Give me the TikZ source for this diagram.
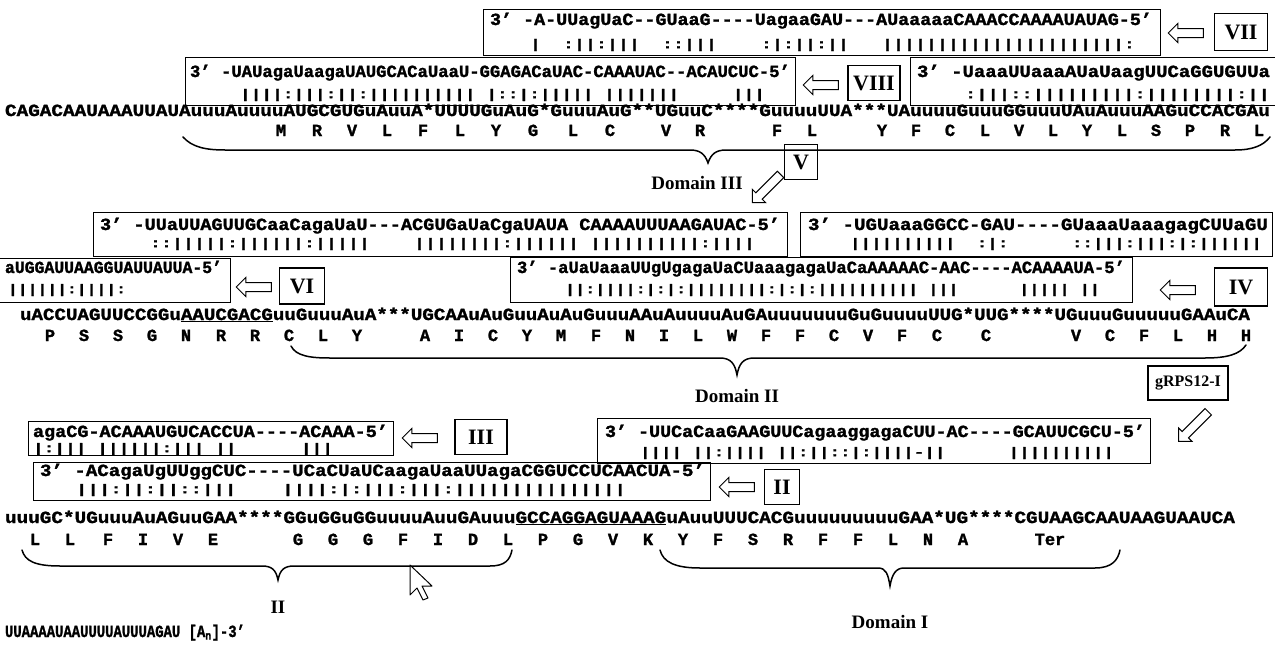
\documentclass[tikz,border=0pt]{standalone}
\usepackage{fontspec}
\setmainfont{Liberation Serif}
\setmonofont{Liberation Mono}[BoldFeatures={FakeBold=1.5}]
\usetikzlibrary{shapes.arrows}
\newcommand{\sqt}[2]{\resizebox{#1pt}{\height}{\ttfamily\bfseries\fontsize{17}{17}\selectfont\frenchspacing #2}}
\newcommand{\pq}[2]{\resizebox*{#1pt}{12pt}{\ttfamily\bfseries\fontsize{17}{17}\selectfont\frenchspacing #2}}
\newcommand{\myq}{\textquoteright}
\tikzset{
  seq/.style={anchor=base west, inner sep=0pt, outer sep=0pt},
  pr/.style={anchor=west, inner sep=0pt, outer sep=0pt},
  gbox/.style={draw, line width=1.2pt, inner sep=0pt, anchor=north west},
  lab/.style={draw, line width=1.2pt, inner sep=0pt, font=\bfseries\fontsize{22}{22}\selectfont},
  aa/.style={anchor=base, inner sep=0pt, font=\ttfamily\bfseries\fontsize{17}{17}\selectfont},
  dom/.style={inner sep=0pt, font=\bfseries\fontsize{19}{19}\selectfont},
  brc/.style={line width=1.5pt, line cap=round},
  harr/.style={single arrow, draw, line width=1pt, fill=white, inner xsep=0pt, inner ysep=4pt, single arrow head extend=5pt, minimum height=35pt},
  cur/.style={line width=1pt, fill=white, line join=round}
}
\begin{document}
\begin{tikzpicture}[x=1pt,y=-1pt]
\useasboundingbox (0,0) rectangle (1275,645);
% ---------- row 1 : guide VII
\node[gbox, minimum width=677pt, minimum height=46pt] (B7) at (483,9) {};
\node[seq] (t7) at (490,25) {\sqt{662}{3\myq{} -A-UUagUaC--GUaaG----UagaaGAU---AUaaaaaCAAACCAAAAUAUAG-5\myq}};
\node[pr] (p7) at (530,45) {\pq{605}{|~~:||:|||~~::|||~~~~:|:||:||~~~||||||||||||||||||||||:}};
\node[harr, rotate=180] (a7) at (1188,33) {};
\node[lab, minimum width=53pt, minimum height=37pt] (L7) at (1241,32) {VII};
% ---------- row 2 : guide VIII
\node[gbox, minimum width=610pt, minimum height=48pt] (B8) at (185,57) {};
\node[seq] (t8) at (190,77) {\sqt{600}{3\myq{} -UAUagaUaagaUAUGCACaUaaU-GGAGACaUAC-CAAAUAC--ACAUCUC-5\myq}};
\node[pr] (p8) at (240,95) {\pq{525}{||||:|||:||:||||||||||~|::|:|||||~|||||||~~~~~|||}};
\node[harr, rotate=180] (a8) at (823,85) {};
\node[lab, minimum width=52pt, minimum height=35pt] (L8) at (874,83) {VIII};
\node[gbox, minimum width=370pt, minimum height=48pt] (B8r) at (910,57) {};
\node[seq] (t8r) at (917,77) {\sqt{353}{3\myq{} -UaaaUUaaaAUaUaagUUCaGGUGUUa}};
\node[pr] (p8r) at (965,95) {\pq{305}{:|||::|||||||||:||||||||:||}};
% ---------- mRNA line 1
\node[seq] (m1) at (5,116) {\sqt{1265}{CAGACAAUAAAUUAUAuuuAuuuuAUGCGUGuAuuA*UUUUGuAuG*GuuuAuG**UGuuC****GuuuuUUA***UAuuuuGuuuGGuuuUAuAuuuAAGuCCACGAu}};
\foreach \l/\x [count=\i] in {M/281,R/317,V/352,L/387,F/423,L/460,Y/496,G/533,L/573,C/610,V/666,R/700,F/777,L/812,Y/882,F/916,C/950,L/985,V/1019,L/1053,Y/1087,L/1122,S/1156,P/1190,R/1225,L/1259}
  \node[aa] (ra-\i) at (\x,136) {\l};
\draw[brc] (183,137) .. controls (192,147) and (205,150) .. (225,150) -- (690,150) .. controls (700,150) and (705,154) .. (708,163) .. controls (711,154) and (716,150) .. (726,150) -- (1235,150) .. controls (1252,150) and (1263,146) .. (1270,137);
\node[dom] (D3) at (697,183) {Domain III};
\node[lab, minimum width=33pt, minimum height=35pt] (L5) at (801,162) {V};
\node[harr, rotate=225, minimum height=40pt] (a5) at (768,187) {};
% ---------- row 3
\node[gbox, minimum width=694pt, minimum height=44pt] (B3l) at (93,212) {};
\node[seq] (t3l) at (100,230) {\sqt{680}{3\myq{} -UUaUUAGUUGCaaCagaUaU---ACGUGaUaCgaUAUA CAAAAUUUAAGAUAC-5\myq}};
\node[pr] (p3l) at (150,244) {\pq{605}{::|||||:||||||:|||||~~~~||||||||:||||||~||||||||||:||||}};
\node[gbox, minimum width=472pt, minimum height=44pt] (B3r) at (800,212) {};
\node[seq] (t3r) at (808,230) {\sqt{460}{3\myq{} -UGUaaaGGCC-GAU----GUaaaUaaagagCUUaGU}};
\node[pr] (p3r) at (850,244) {\pq{412}{||||||||||~~:|:~~~~~~::|||:|||:|:||||||}};
% ---------- row 4
\node[gbox, minimum width=232pt, minimum height=44pt] (B4l) at (-2,258) {};
\node[seq] (t4l) at (5,273) {\sqt{217}{aUGGAUUAAGGUAUUAUUA-5\myq}};
\node[pr] (p4l) at (8,290) {\pq{118}{||||||:||||:}};
\node[harr, rotate=180] (a6) at (256,287) {};
\node[lab, minimum width=45pt, minimum height=36pt] (L6) at (302,286) {VI};
\node[gbox, minimum width=622pt, minimum height=45pt] (B4m) at (510,257) {};
\node[seq] (t4m) at (517,273) {\sqt{608}{3\myq{} -aUaUaaaUUgUgagaUaCUaaagagaUaCaAAAAAC-AAC----ACAAAAUA-5\myq}};
\node[pr] (p4m) at (565,290) {\pq{535}{||:||||:|:|:||||||||:|:|:||||||||||~|||~~~~~~|||||~||}};
\node[harr, rotate=180] (a4) at (1180,290) {};
\node[lab, minimum width=53pt, minimum height=38pt] (L4) at (1241,287) {IV};
% ---------- mRNA line 2
\node[seq] (m2) at (20,320) {\sqt{1230}{uACCUAGUUCCGGu\underline{AAUCGACG}uuGuuuAuA***UGCAAuAuGuuAuAuGuuuAAuAuuuuAuGAuuuuuuuGuGuuuuUUG*UUG****UGuuuGuuuuuGAAuCA}};
\foreach \l/\x [count=\i] in {P/50,S/84,S/118,G/152,N/186,R/221,R/255,C/289,L/323,Y/357,A/425,I/459,C/493,Y/527,M/561,F/596,N/630,I/664,L/698,W/732,F/766,F/800,C/834,V/868,F/902,C/937,C/986,V/1076,C/1110,F/1144,L/1178,H/1212,H/1246}
  \node[aa] (rb-\i) at (\x,341) {\l};
\draw[brc] (291,346) .. controls (296,356) and (310,358) .. (330,358) -- (720,358) .. controls (731,358) and (735,364) .. (737,375) .. controls (739,364) and (743,358) .. (754,358) -- (1205,358) .. controls (1228,358) and (1240,354) .. (1246,345);
\node[dom] (D2) at (737,396) {Domain II};
\node[lab, font=\bfseries\fontsize{16}{16}\selectfont, minimum width=80pt, minimum height=34pt] (G) at (1188,383) {gRPS12-I};
\node[harr, rotate=225, minimum height=42pt] (ag) at (1195,425) {};
% ---------- row 5
\node[gbox, minimum width=365pt, minimum height=34pt] (B5l) at (28,421) {};
\node[seq] (t5l) at (33,437) {\sqt{355}{agaCG-ACAAAUGUCACCUA----ACAAA-5\myq}};
\node[pr] (p5l) at (33,449) {\pq{300}{|:|||~||||||:|||~||~~~~~~|||}};
\node[harr, rotate=180] (a3) at (422,438) {};
\node[lab, minimum width=52pt, minimum height=35pt] (L3) at (481,437) {III};
\node[gbox, minimum width=553pt, minimum height=45pt] (B5r) at (597,418) {};
\node[seq] (t5r) at (605,437) {\sqt{540}{3\myq{} -UUCaCaaGAAGUUCagaaggagaCUU-AC----GCAUUCGCU-5\myq}};
\node[pr] (p5r) at (640,453) {\pq{474}{||||~||:||||~||:||::|:||||-||~~~~~~||||||||||}};
% ---------- row 6 : guide II
\node[gbox, minimum width=677pt, minimum height=38pt] (B6) at (33,462) {};
\node[seq] (t6) at (40,476) {\sqt{665}{3\myq{} -ACagaUgUUggCUC----UCaCUaUCaagaUaaUUagaCGGUCCUCAACUA-5\myq}};
\node[pr] (p6) at (76,490) {\pq{550}{|||:||:||::|||~~~~||||:|:|||:|||:|||||||||||||||}};
\node[harr, rotate=180] (a2) at (739,487) {};
\node[lab, minimum width=35pt, minimum height=35pt] (L2) at (782,487) {II};
% ---------- mRNA line 3
\node[seq] (m3) at (5,523) {\sqt{1230}{uuuGC*UGuuuAuAGuuGAA****GGuGGuGGuuuuAuuGAuuu\underline{GCCAGGAGUAAAG}uAuuUUUCACGuuuuuuuuuGAA*UG****CGUAAGCAAUAAGUAAUCA}};
\foreach \l/\x [count=\i] in {L/35,L/70,F/108,I/143,V/178,E/213,G/298,G/333,G/368,F/403,I/438,D/473,L/508,P/543,G/578,V/613,K/648,Y/683,F/718,S/753,R/788,F/823,F/858,L/893,N/928,A/963,Ter/1050}
  \node[aa] (rc-\i) at (\x,545) {\l};
\draw[brc] (22,550) .. controls (25,561) and (35,566) .. (60,566) -- (262,566) .. controls (272,566) and (276,570) .. (278,580) .. controls (280,570) and (284,566) .. (294,566) -- (490,566) .. controls (505,566) and (510,560) .. (512,550);
\draw[brc] (660,550) .. controls (663,562) and (675,568) .. (700,568) -- (878,568) .. controls (886,568) and (888,574) .. (890,586) .. controls (892,574) and (896,568) .. (904,568) -- (1095,568) .. controls (1112,568) and (1118,560) .. (1120,550);
\node[dom] (DII) at (278,607) {II};
\node[dom] (D1) at (890,622) {Domain I};
\draw[cur] (410,565) -- ++(0,30) -- ++(7,-7) -- ++(6,12) -- ++(5,-2) -- ++(-6,-12) -- ++(10,0) -- cycle;
\node[seq] (m4) at (5,637) {\sqt{240}{UUAAAAUAAUUUUAUUUAGAU [A\textsubscript{n}]-3\myq}};
\end{tikzpicture}
\end{document}
